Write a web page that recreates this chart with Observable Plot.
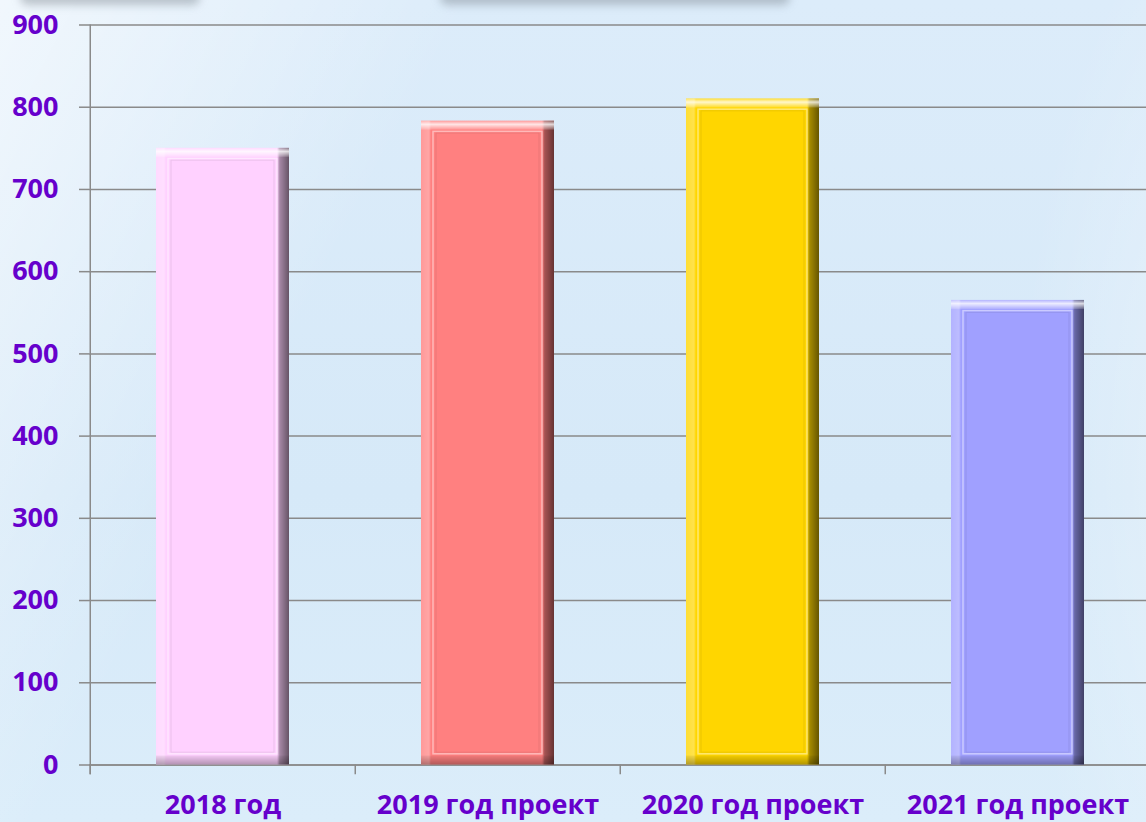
<!DOCTYPE html>
<html>
<head>
<meta charset="utf-8">
<script src="https://cdn.jsdelivr.net/npm/d3@7"></script>
<script src="https://cdn.jsdelivr.net/npm/@observablehq/plot@0.6"></script>
<style>
  html, body { margin: 0; padding: 0; width: 1146px; height: 822px; overflow: hidden; }
  body {
    position: relative;
    background:
      radial-gradient(ellipse 420px 900px at 1330px 470px, rgba(255,255,255,0.55), rgba(255,255,255,0) 75%),
      linear-gradient(118deg, rgba(255,255,255,0.6) 0%, rgba(255,255,255,0.15) 22%, rgba(255,255,255,0) 30%),
      linear-gradient(180deg, #dcecfa 0%, #d6e9f8 60%, #dbedfa 100%);
  }
  .smear { position: absolute; top: -10px; height: 15px; border-radius: 8px; background: rgba(110,120,130,0.4); filter: blur(4px); }
  #chart { position: absolute; left: 0; top: 0; }
</style>
</head>
<body>
<div class="smear" style="left:20px;width:180px"></div>
<div class="smear" style="left:440px;width:350px"></div>
<div id="chart"></div>
<script>
const categories = ["2018 год", "2019 год проект", "2020 год проект", "2021 год проект"];
const values = [750, 783, 810, 565];
const colors = ["#ffd1ff", "#ff8080", "#ffd600", "#a0a0ff"];
const yTicks = [0, 100, 200, 300, 400, 500, 600, 700, 800, 900];

const data = categories.map((c, i) => ({cat: c, value: values[i], color: colors[i]}));

const W = 1146, H = 822, ML = 89, MR = -5;
const step = (W - MR - ML) / categories.length;
const bevel = 11;
const textColor = "#6600cc";
const axisGray = "#8a8a8a";

const chart = Plot.plot({
  width: W,
  height: H,
  marginLeft: ML,
  marginRight: MR,
  marginTop: 24.5,
  marginBottom: 57.5,
  style: {background: "transparent", fontFamily: "'Open Sans', sans-serif", overflow: "visible"},
  x: {domain: categories, paddingInner: 0.5, paddingOuter: 0.25, label: null},
  y: {domain: [0, 900], label: null},
  color: {type: "identity"},
  marks: [
    Plot.gridY(yTicks, {stroke: axisGray, strokeOpacity: 1, strokeWidth: 1.5}),
    Plot.axisY(yTicks, {tickSize: 10, tickPadding: 21, fontSize: 27, fontWeight: "bold", fill: textColor, stroke: axisGray, strokeWidth: 1.5, tickFormat: d => String(d)}),
    Plot.axisX({tickSize: 0, tickPadding: 30, fontSize: 27, fontWeight: "bold", fill: textColor}),
    Plot.ruleY([0], {stroke: axisGray, strokeWidth: 1.5}),
    Plot.ruleX([categories[0]], {y1: -12, y2: 900, dx: -step / 2, stroke: axisGray, strokeWidth: 1.5}),
    Plot.ruleX(categories, {y1: -12, y2: 0, dx: -step / 2, stroke: axisGray, strokeWidth: 1.5}),
    // bars
    Plot.barY(data, {x: "cat", y: "value", fill: "color"}),
    Plot.barY(data, {x: "cat", y: "value", fill: "url(#hshade)"}),
    Plot.barY(data, {x: "cat", y1: d => d.value - bevel, y2: "value", fill: "url(#vtop)"}),
    Plot.barY(data, {x: "cat", y1: 0, y2: bevel, fill: "url(#vbot)"}),
    Plot.barY(data, {x: "cat", y1: bevel + 2, y2: d => d.value - bevel - 2, insetLeft: 12, insetRight: 12, fill: "none", stroke: "white", strokeOpacity: 0.45, strokeWidth: 1.5}),
    Plot.barY(data, {x: "cat", y1: bevel + 4, y2: d => d.value - bevel - 4, insetLeft: 15, insetRight: 15, fill: "none", stroke: "black", strokeOpacity: 0.08, strokeWidth: 1})
  ]
});

const defs = d3.select(chart).insert("defs", ":first-child");
const h = defs.append("linearGradient").attr("id", "hshade").attr("x1", 0).attr("x2", 1).attr("y1", 0).attr("y2", 0);
[[0, "white", 0.2], [0.06, "white", 0.3], [0.075, "white", 0], [0.91, "black", 0], [0.93, "black", 0.35], [1, "black", 0.6]]
  .forEach(([o, c, a]) => h.append("stop").attr("offset", o).attr("stop-color", c).attr("stop-opacity", a));
const vt = defs.append("linearGradient").attr("id", "vtop").attr("x1", 0).attr("x2", 0).attr("y1", 0).attr("y2", 1);
[[0, "white", 0.2], [0.4, "white", 0.8], [1, "white", 0.15]]
  .forEach(([o, c, a]) => vt.append("stop").attr("offset", o).attr("stop-color", c).attr("stop-opacity", a));
const vb = defs.append("linearGradient").attr("id", "vbot").attr("x1", 0).attr("x2", 0).attr("y1", 0).attr("y2", 1);
[[0, "black", 0.05], [1, "black", 0.3]]
  .forEach(([o, c, a]) => vb.append("stop").attr("offset", o).attr("stop-color", c).attr("stop-opacity", a));

document.getElementById("chart").appendChild(chart);
</script>
</body>
</html>
